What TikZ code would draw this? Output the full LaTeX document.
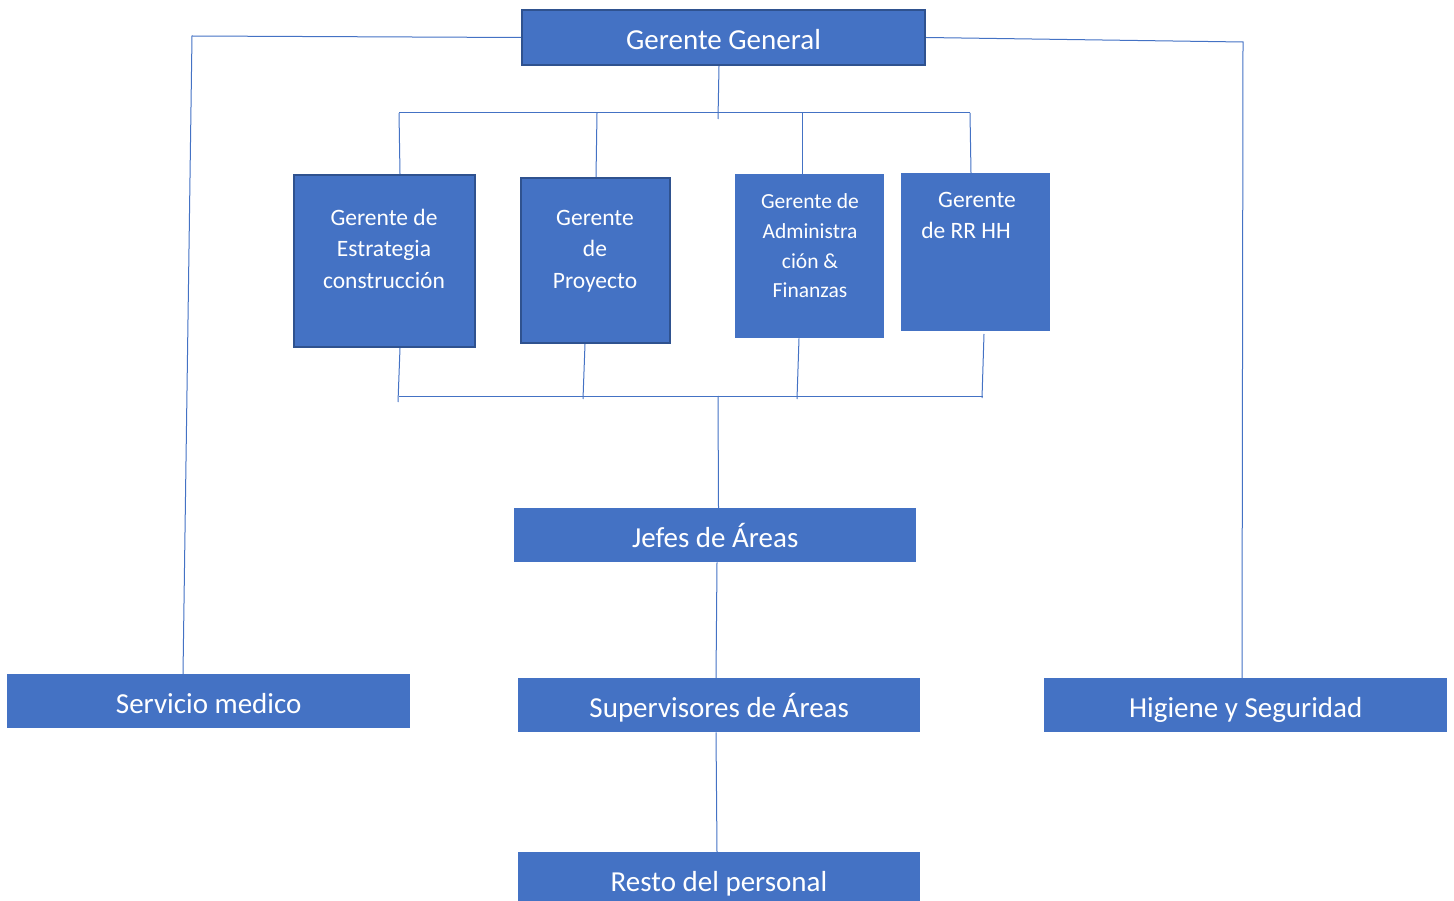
\documentclass[tikz,border=0pt]{standalone}
\usepackage{fontspec}
\setmainfont{Carlito}
\definecolor{boxblue}{HTML}{4472C4}
\definecolor{boxedge}{HTML}{2F528F}
\begin{document}
\begin{tikzpicture}[x=1pt,y=-1pt,
  box/.style={fill=boxblue, draw=none, inner sep=0pt, anchor=north west, text=white,
    font=\fontsize{29}{35}\selectfont, text height=26pt, text depth=1pt},
  edged/.style={box, draw=boxedge, line width=2pt},
  link/.style={draw=boxblue, line width=1pt},
  midtext/.style={font=\fontsize{23.5}{31.5}\selectfont, align=center, text=white, inner sep=0pt},
  smalltext/.style={font=\fontsize{21.5}{29.7}\selectfont, align=center, text=white, inner sep=0pt}]
\useasboundingbox (0,0) rectangle (1454,901);

% boxes
\node[edged, minimum width=403pt, minimum height=55pt] (gg) at (521,9) {Gerente General};
\node[edged, minimum width=181pt, minimum height=172pt] (est) at (293,174) {};
\node[edged, minimum width=149pt, minimum height=165pt] (pro) at (520,177) {};
\node[box, minimum width=149pt, minimum height=164pt] (adm) at (735,174) {};
\node[box, minimum width=149pt, minimum height=158pt] (rrhh) at (901,173) {};
\node[box, minimum width=402pt, minimum height=54pt] (jef) at (514,508) {Jefes de Áreas};
\node[box, minimum width=403pt, minimum height=54pt] (sm) at (7,674) {Servicio medico};
\node[box, minimum width=402pt, minimum height=54pt] (sup) at (518,678) {Supervisores de Áreas};
\node[box, minimum width=403pt, minimum height=54pt] (hs) at (1044,678) {Higiene y Seguridad};
\node[box, minimum width=402pt, minimum height=58pt] (rp) at (518,852) {};
\node[text=white, inner sep=0pt, anchor=base, font=\fontsize{29}{35}\selectfont] (rpt) at (719,891) {Resto del personal};

% texts of the middle boxes
\node[midtext] (estt) at (384,248.5) {Gerente de\\Estrategia\\construcción};
\node[midtext] (prot) at (595,251) {Gerente\\de\\Proyecto};
\node[smalltext] (admt) at (810,246) {Gerente de\\Administra\\ción \&\\Finanzas};
\node[midtext] (rr1) at (977,200) {Gerente};
\node[midtext] (rr2) at (966,230) {de RR HH};

% coordinates
\coordinate (tl) at (192,36);
\coordinate (tr) at (1243,42);
\coordinate (ggb) at (718,119);
\coordinate (b1l) at (399,113);
\coordinate (b1r) at (970,113);
\coordinate (b2l) at (399,396);
\coordinate (b2r) at (983,396);
\coordinate (b2m) at (718,396);

% side lines
\draw[link] (gg.west) -- (tl) -- ([xshift=176pt]sm.north west);
\draw[link] (gg.east) -- (tr) -- ([xshift=198pt]hs.north west);

% upper bus
\draw[link] ([xshift=-4.5pt]gg.south) -- (ggb);
\draw[link] (b1l) -- (b1r);
\draw[link] (b1l) -- ([xshift=107pt]est.north west);
\draw[link] (597,113) -- ([xshift=76pt]pro.north west);
\draw[link] (802.5,113) -- ([xshift=67.5pt]adm.north west);
\draw[link] (b1r) -- ([xshift=70pt]rrhh.north west);

% lower bus
\draw[link] ([xshift=107pt]est.south west) -- (398,402);
\draw[link] ([xshift=65pt]pro.south west) -- (583,399);
\draw[link] ([xshift=64pt]adm.south west) -- (797,399);
\draw[link] (984,334) -- (982,398);
\draw[link] (b2l) -- (b2r);
\draw[link] (b2m) -- ([xshift=204.5pt]jef.north west);

% lower chain
\draw[link] ([xshift=203pt]jef.south west) -- ([xshift=198pt]sup.north west);
\draw[link] ([xshift=198pt]sup.south west) -- ([xshift=199pt]rp.north west);
\end{tikzpicture}
\end{document}
